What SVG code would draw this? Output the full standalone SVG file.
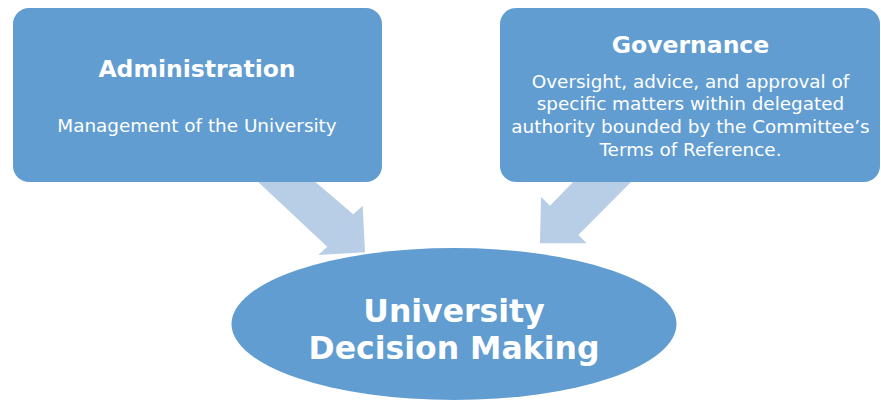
<svg xmlns="http://www.w3.org/2000/svg" width="881" height="400" viewBox="0 0 881 400">
<style>
.box{fill:#619dd1;}
.arrow{fill:#b8cde6;}
.title{font-family:"DejaVu Sans",sans-serif;font-weight:bold;fill:#ffffff;text-anchor:middle;}
.body{font-family:"DejaVu Sans",sans-serif;fill:#ffffff;text-anchor:middle;font-size:18.4px;}
</style>
<rect width="881" height="400" fill="#ffffff"/>
<g id="connectors">
<polygon class="arrow" points="256,180 313,180 353.3,214.3 362.7,205.7 365,252.3 318.3,255 327.3,246.7"/>
<polygon class="arrow" points="633,180 575,180 550,205.7 541,196.7 540,243.3 586.7,243.3 578.3,235"/>
</g>
<g id="administration">
<rect class="box" x="13" y="8" width="369" height="174" rx="16" ry="16"/>
<text class="title" x="197" y="76.5" font-size="23.5">Administration</text>
<text class="body" x="197" y="131.5">Management of the University</text>
</g>
<g id="governance">
<rect class="box" x="500" y="8" width="380" height="174" rx="16" ry="16"/>
<text class="title" x="690.5" y="52.5" font-size="23.5">Governance</text>
<text class="body" x="690.5" y="87.5">Oversight, advice, and approval of</text>
<text class="body" x="690.5" y="110.3">specific matters within delegated</text>
<text class="body" x="690.5" y="133.1">authority bounded by the Committee’s</text>
<text class="body" x="690.5" y="155.9">Terms of Reference.</text>
</g>
<g id="decision">
<ellipse class="box" cx="454" cy="324" rx="222.5" ry="76"/>
<text class="title" x="454" y="321.7" font-size="31.5">University</text>
<text class="title" x="454" y="359" font-size="31.5">Decision Making</text>
</g>
</svg>
